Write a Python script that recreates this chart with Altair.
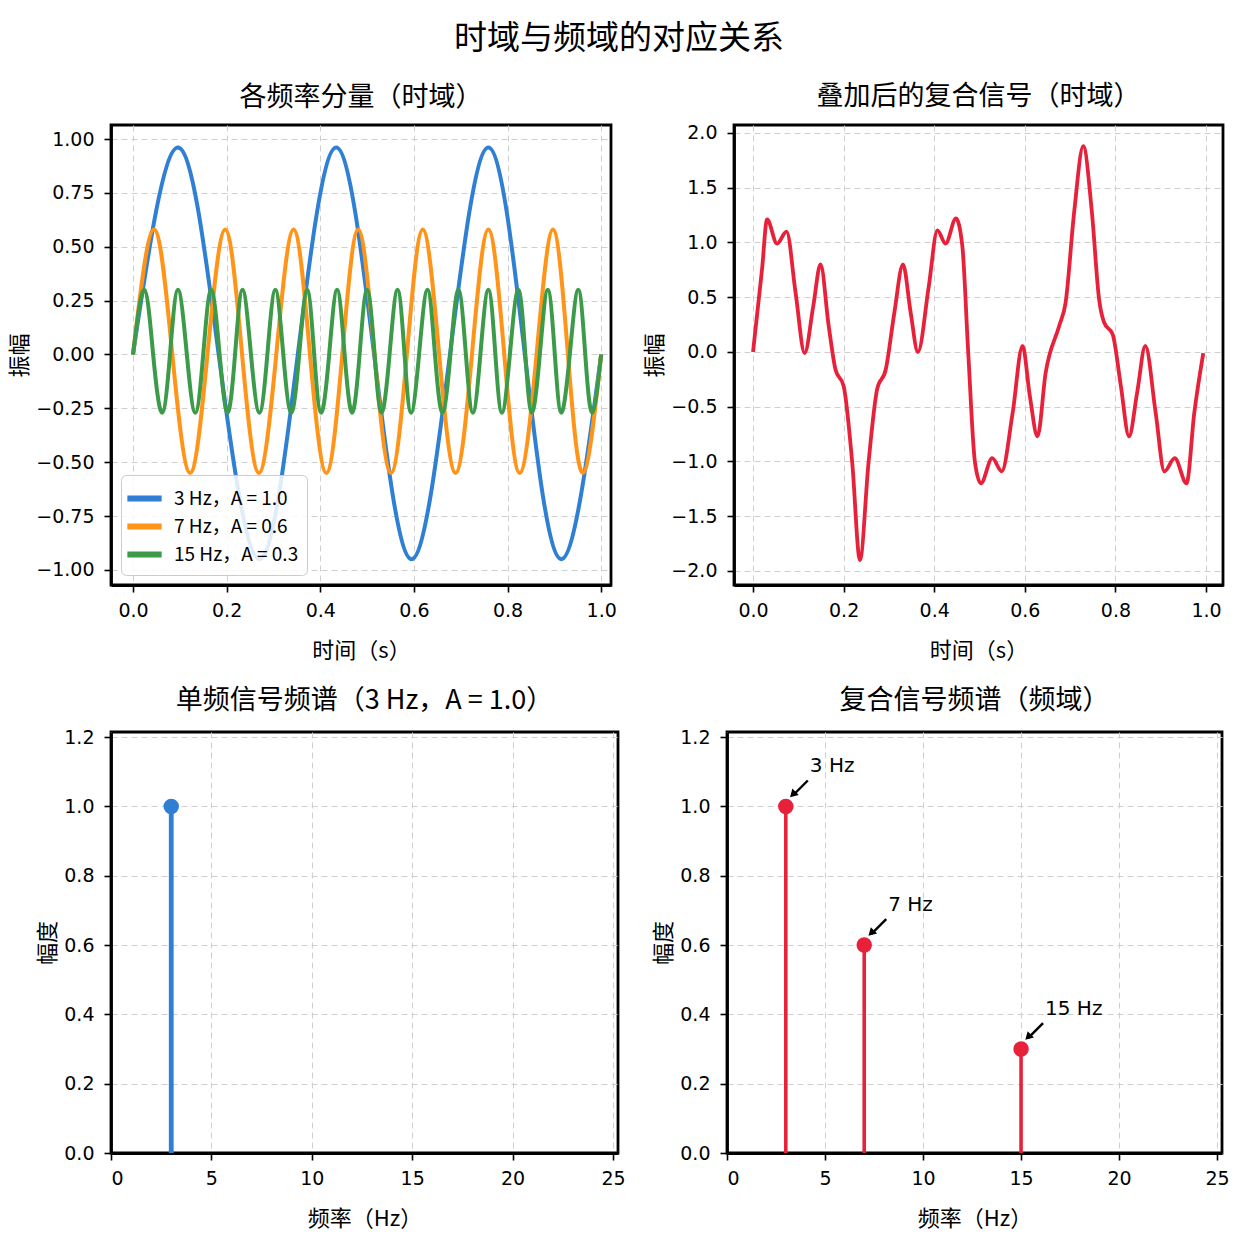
import altair as alt
import pandas as pd

FONT = "Noto Sans CJK SC"
NUMFONT = "DejaVu Sans"

# ---------------- data ----------------
# 3 Hz, A = 1.0 (key points: zero crossings and extrema)
t_3hz = [0, 0.096, 0.183, 0.27, 0.352, 0.434, 0.515, 0.595, 0.677, 0.759, 0.837, 0.915, 1.0]
v_3hz = [0, 0.96, 0, -0.95, 0, 0.96, 0, -0.95, 0, 0.96, 0, -0.95, 0]

# 7 Hz, A = 0.6
t_7hz = [0, 0.045, 0.084, 0.122, 0.159, 0.197, 0.233, 0.269, 0.306, 0.343, 0.378, 0.413,
         0.447, 0.481, 0.516, 0.551, 0.585, 0.619, 0.654, 0.689, 0.724, 0.759, 0.793,
         0.826, 0.862, 0.897, 0.929, 0.961, 1.0]
v_7hz = [0, 0.58, 0, -0.55, 0, 0.58, 0, -0.55, 0, 0.58, 0, -0.55,
         0, 0.58, 0, -0.55, 0, 0.58, 0, -0.55, 0, 0.58, 0,
         -0.55, 0, 0.58, 0, -0.55, 0]

# 15 Hz, A = 0.3
t_15hz = [0, 0.024, 0.043, 0.062, 0.079, 0.096, 0.115, 0.133, 0.150, 0.167, 0.185, 0.202,
          0.218, 0.234, 0.252, 0.270, 0.287, 0.304, 0.321, 0.338, 0.355, 0.372, 0.387,
          0.402, 0.419, 0.436, 0.452, 0.468, 0.484, 0.500, 0.516, 0.531, 0.548, 0.565,
          0.580, 0.594, 0.611, 0.629, 0.645, 0.661, 0.678, 0.695, 0.711, 0.726, 0.742,
          0.759, 0.774, 0.788, 0.805, 0.823, 0.838, 0.852, 0.869, 0.886, 0.901, 0.915,
          0.933, 0.951, 0.966, 0.981, 1.0]
v_15hz = [0, 0.3, 0, -0.27, 0, 0.3, 0, -0.27, 0, 0.3, 0, -0.27,
          0, 0.3, 0, -0.27, 0, 0.3, 0, -0.27, 0, 0.3, 0,
          -0.27, 0, 0.3, 0, -0.27, 0, 0.3, 0, -0.27, 0, 0.3,
          0, -0.27, 0, 0.3, 0, -0.27, 0, 0.3, 0, -0.27, 0,
          0.3, 0, -0.27, 0, 0.3, 0, -0.27, 0, 0.3, 0, -0.27,
          0, 0.3, 0, -0.27, 0]

series_names = ["3 Hz，A = 1.0", "7 Hz，A = 0.6", "15 Hz，A = 0.3"]
series_colors = ["#2f7fd4", "#ff9418", "#3b9b49"]

# composite signal
t_sum = [0, 0.020, 0.031, 0.053, 0.074, 0.094, 0.114, 0.133, 0.149, 0.167, 0.182, 0.200,
         0.219, 0.236, 0.255, 0.274, 0.293, 0.312, 0.331, 0.348, 0.364, 0.388, 0.407,
         0.425, 0.448, 0.462, 0.475, 0.490, 0.503, 0.528, 0.549, 0.573, 0.595, 0.611,
         0.628, 0.646, 0.676, 0.690, 0.709, 0.729, 0.748, 0.764, 0.775, 0.794, 0.812,
         0.830, 0.848, 0.866, 0.889, 0.908, 0.931, 0.957, 0.974, 0.994]
v_sum = [0, 0.76, 1.21, 0.99, 1.10, 0.54, -0.01, 0.42, 0.80, 0.24, -0.16, -0.31,
         -1.01, -1.90, -1.01, -0.34, -0.16, 0.36, 0.80, 0.36, 0.0, 0.60, 1.11,
         0.99, 1.22, 0.97, 0.0, -1.01, -1.20, -0.97, -1.09, -0.56, 0.055, -0.40,
         -0.77, -0.19, 0.24, 0.45, 1.28, 1.88, 1.28, 0.48, 0.27, 0.16, -0.31,
         -0.77, -0.37, 0.055, -0.56, -1.09, -0.97, -1.20, -0.56, -0.01]
sum_color = "#e8213a"

# spectra
single_freq = [3]
single_amp = [1.0]
multi_freq = [3, 7, 15]
multi_amp = [1.0, 0.6, 0.3]
multi_labels = ["3 Hz", "7 Hz", "15 Hz"]

# ---------------- tables ----------------
rows = []
for name, ts, vs in zip(series_names, [t_3hz, t_7hz, t_15hz], [v_3hz, v_7hz, v_15hz]):
    for t, v in zip(ts, vs):
        rows.append({"t": t, "v": v, "series": name})
df_comp = pd.DataFrame(rows)
df_sum = pd.DataFrame({"t": t_sum, "v": v_sum})
df_single = pd.DataFrame({"f": single_freq, "a": single_amp})
df_multi = pd.DataFrame({"f": multi_freq, "a": multi_amp, "label": multi_labels})

grid = dict(grid=True, gridDash=[6, 4], gridColor="#cfcfcf", gridWidth=1)


def xax(title, values, fmt):
    return alt.Axis(title=title, values=values, format=fmt, labelPadding=9,
                    titlePadding=20, **grid)


def yax(title, values, fmt):
    return alt.Axis(title=title, values=values, format=fmt, labelPadding=10,
                    titlePadding=4, **grid)


def sub_title(text):
    return alt.TitleParams(text, fontSize=27, font=FONT, fontWeight="normal", offset=13)


t_vals = [0, 0.2, 0.4, 0.6, 0.8, 1.0]

# ---------------- panel 1 ----------------
p1 = alt.Chart(df_comp).mark_line(strokeWidth=4, interpolate="natural", clip=True).encode(
    x=alt.X("t:Q", scale=alt.Scale(domain=[-0.047, 1.021], nice=False, zero=False),
            axis=xax("时间（s）", t_vals, ".1f")),
    y=alt.Y("v:Q", scale=alt.Scale(domain=[-1.07, 1.065], nice=False, zero=False),
            axis=yax("振幅", [-1, -0.75, -0.5, -0.25, 0, 0.25, 0.5, 0.75, 1.0], ".2f")),
    color=alt.Color("series:N",
                    scale=alt.Scale(domain=series_names, range=series_colors),
                    sort=series_names,
                    legend=alt.Legend(title=None, orient="bottom-left", offset=10,
                                      symbolType="M-1.4,0L1.4,0", symbolStrokeWidth=6,
                                      symbolSize=600, labelFontSize=19, labelFont=FONT,
                                      labelOffset=14,
                                      fillColor="rgba(255,255,255,0.85)",
                                      strokeColor="#cccccc", cornerRadius=5,
                                      padding=8, rowPadding=0)),
    detail="series:N",
).properties(width=500, height=460, title=sub_title("各频率分量（时域）"))

# ---------------- panel 2 ----------------
p2 = alt.Chart(df_sum).mark_line(strokeWidth=3.8, interpolate="monotone",
                                 color=sum_color, clip=True).encode(
    x=alt.X("t:Q", scale=alt.Scale(domain=[-0.042, 1.0375], nice=False, zero=False),
            axis=xax("时间（s）", t_vals, ".1f")),
    y=alt.Y("v:Q", scale=alt.Scale(domain=[-2.128, 2.073], nice=False, zero=False),
            axis=yax("振幅", [-2, -1.5, -1, -0.5, 0, 0.5, 1, 1.5, 2], ".1f")),
).properties(width=489, height=460, title=sub_title("叠加后的复合信号（时域）"))

f_vals = [0, 5, 10, 15, 20, 25]
a_vals = [0, 0.2, 0.4, 0.6, 0.8, 1.0, 1.2]
fx = dict(scale=alt.Scale(domain=[0, 25.25], nice=False, zero=False))
fy = dict(scale=alt.Scale(domain=[0, 1.215], nice=False, zero=False))

# ---------------- panel 3 ----------------
base3 = alt.Chart(df_single)
stem3 = base3.mark_rule(strokeWidth=4.8, color=series_colors[0]).encode(
    x=alt.X("f:Q", axis=xax("频率（Hz）", f_vals, "d"), **fx),
    y=alt.Y("a:Q", axis=yax("幅度", a_vals, ".1f"), **fy),
    y2=alt.datum(0),
)
dot3 = base3.mark_circle(size=240, opacity=1, color=series_colors[0]).encode(
    x="f:Q", y="a:Q")
p3 = alt.layer(stem3, dot3).properties(
    width=507, height=421, title=sub_title("单频信号频谱（3 Hz，A = 1.0）"))

# ---------------- panel 4 ----------------
base4 = alt.Chart(df_multi)
stem4 = base4.mark_rule(strokeWidth=3.6, color=sum_color).encode(
    x=alt.X("f:Q", axis=xax("频率（Hz）", f_vals, "d"), **fx),
    y=alt.Y("a:Q", axis=yax("幅度", a_vals, ".1f"), **fy),
    y2=alt.datum(0),
)
dot4 = base4.mark_circle(size=240, opacity=1, color=sum_color).encode(x="f:Q", y="a:Q")
arrow4 = base4.mark_rule(strokeWidth=2.4, color="black", xOffset=22, yOffset=-26,
                         x2Offset=7, y2Offset=-11).encode(
    x="f:Q", y="a:Q", x2="f:Q", y2="a:Q")
head4 = base4.mark_point(shape="triangle-up", filled=True, size=80, angle=225,
                         color="black", opacity=1, xOffset=7, yOffset=-12).encode(
    x="f:Q", y="a:Q")
text4 = base4.mark_text(align="left", baseline="middle", dx=24, dy=-40, fontSize=20,
                        font=NUMFONT, color="black").encode(x="f:Q", y="a:Q", text="label:N")
p4 = alt.layer(stem4, dot4, arrow4, head4, text4).properties(
    width=495, height=421, title=sub_title("复合信号频谱（频域）"))

top = alt.hconcat(p1, p2, spacing=24).resolve_legend(color="independent")
bottom = alt.hconcat(p3, p4, spacing=24)

chart = alt.vconcat(top, bottom, spacing=22).resolve_legend(color="independent").properties(
    title=alt.TitleParams("时域与频域的对应关系", fontSize=33, font=FONT,
                          fontWeight="normal", anchor="middle", offset=26),
    padding={"left": 7, "top": 22, "right": 5, "bottom": 2},
    background="white",
).configure_view(
    stroke="black", strokeWidth=2.8
).configure_axis(
    domain=True, domainColor="black", domainWidth=2.8,
    ticks=True, tickColor="black", tickSize=7, tickWidth=1.6,
    labelFont=NUMFONT, labelFontSize=19, labelColor="black",
    titleFont=FONT, titleFontSize=22, titleFontWeight="normal", titleColor="black",
).configure_title(color="black")

chart.save("out.html", embed_options={"renderer": "svg", "actions": False})
